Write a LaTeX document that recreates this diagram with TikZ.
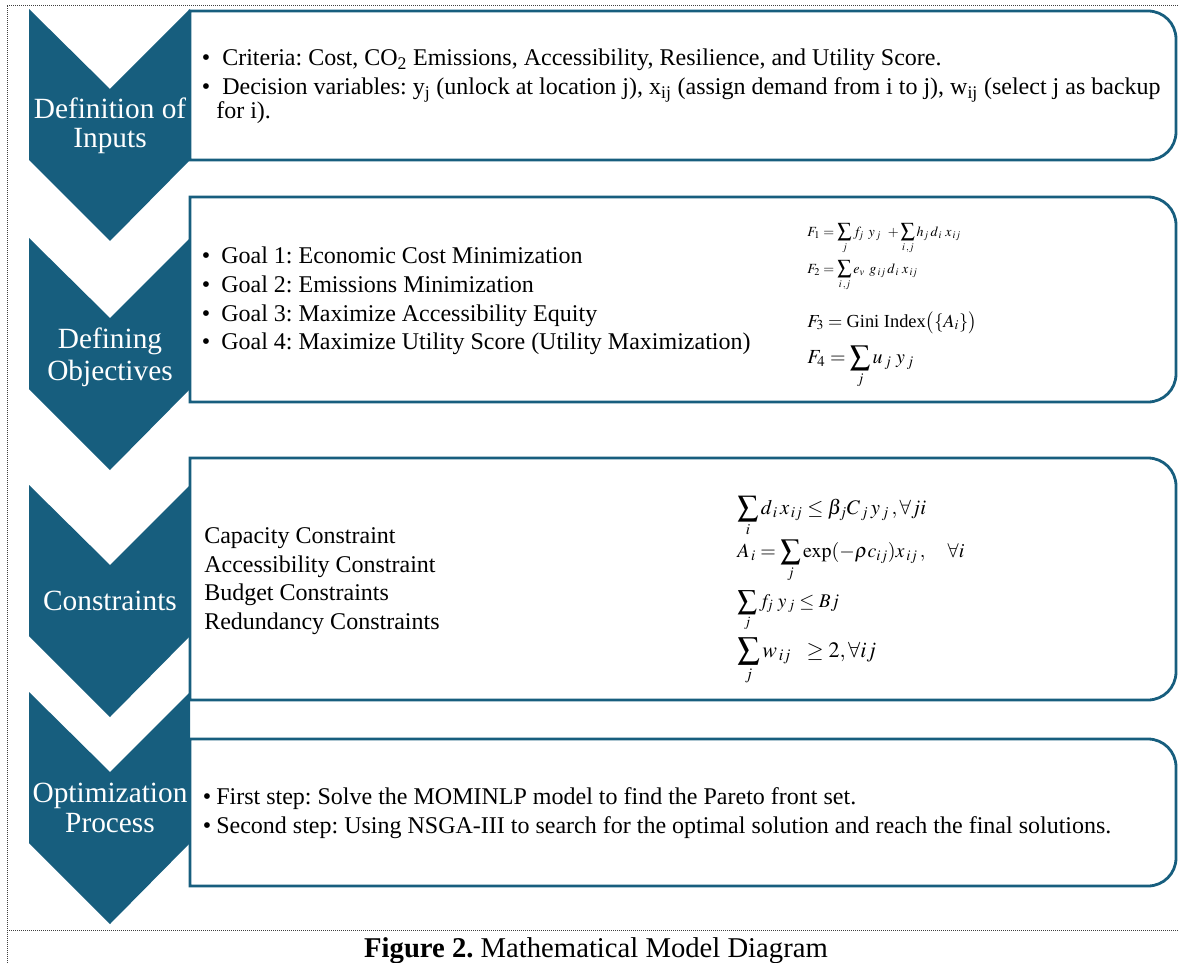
\documentclass[tikz,border=0pt]{standalone}
\usepackage{amsmath}
\usepackage{mathptmx}
\usepackage{fontspec}
\setmainfont{Liberation Serif}
\frenchspacing
\definecolor{tealA}{RGB}{23,94,126}
\newcommand\rbox[3]{\draw[boxline] (190,#1) -- (1148,#1) arc[start angle=-90,end angle=0,radius=28] -- (1176,#2-28) arc[start angle=0,end angle=90,radius=28] -- (190,#2) -- cycle;}
\newcommand\chevron[1]{\fill[tealA] (29,#1) -- (110,#1+80) -- (190,#1) -- (190,#1+151) -- (110,#1+232) -- (29,#1+151) -- cycle;}
\begin{document}
\begin{tikzpicture}[x=0.75pt,y=-0.75pt,
  boxline/.style={draw=tealA,line width=2.1pt},
  lbl/.style={text=white,font=\fontsize{22}{22}\selectfont,anchor=base,inner sep=0},
  txt/.style={anchor=base west,inner sep=0,font=\fontsize{18}{20}\selectfont},
  bul/.style={anchor=base,inner sep=0,font=\fontsize{18}{20}\selectfont},
  frm/.style={anchor=base west,inner sep=0},
]
\useasboundingbox (0,0) rectangle (1178,963);
% dotted frame
\draw[densely dotted,line width=0.5pt,black!75] (7,963) -- (7,5) -- (1178,5);
\draw[densely dotted,line width=0.5pt,black!75] (7,930) -- (1178,930);
% boxes
\rbox{11}{160}{}
\rbox{197}{402}{}
\rbox{458}{700}{}
\rbox{739}{886}{}
% chevrons
\chevron{9}
\chevron{238}
\chevron{485}
\chevron{692}
% chevron labels
\node[lbl] (l1a) at (110,119) {Definition of};
\node[lbl] (l1b) at (110,148) {Inputs};
\node[lbl] (l2a) at (110,348) {Defining};
\node[lbl] (l2b) at (110,380) {Objectives};
\node[lbl] (l3a) at (110,610) {Constraints};
\node[lbl] (l4a) at (110,802) {Optimization};
\node[lbl] (l4b) at (110,832) {Process};
% box 1
\node[bul] (b1a) at (206,66) {\textbullet};
\node[txt] (t1a) at (222,66) {Criteria: Cost, CO\textsubscript{2} Emissions, Accessibility, Resilience, and Utility Score.};
\node[bul] (b1b) at (206,95) {\textbullet};
\node[txt] (t1b) at (222,95) {Decision variables: y\textsubscript{j} (unlock at location j), x\textsubscript{ij} (assign demand from i to j), w\textsubscript{ij} (select j as backup};
\node[txt] (t1c) at (216,119) {for i).};
% box 2
\node[bul] (b2a) at (206,263) {\textbullet};
\node[txt] (t2a) at (221,263) {Goal 1: Economic Cost Minimization};
\node[bul] (b2b) at (206,292) {\textbullet};
\node[txt] (t2b) at (221,292) {Goal 2: Emissions Minimization};
\node[bul] (b2c) at (206,321) {\textbullet};
\node[txt] (t2c) at (221,321) {Goal 3: Maximize Accessibility Equity};
\node[bul] (b2d) at (206,349) {\textbullet};
\node[txt] (t2d) at (221,349) {Goal 4: Maximize Utility Score (Utility Maximization)};
\node[frm,font=\fontsize{10.5}{11}\selectfont] (f1) at (807,236) {$\displaystyle F_1=\sum_j f_{\!j}\;\,y_{\,j}\;\,+\sum_{i\,,j} h_j\,d_{\,i}\;x_{\,ij}$};
\node[frm,font=\fontsize{10.5}{11}\selectfont] (f2) at (807,273) {$\displaystyle F_2=\sum_{i\,,j} e_v\;\,g_{\,ij}\,d_{\,i}\;x_{\,ij}$};
\node[frm,font=\fontsize{13.8}{14}\selectfont] (f3) at (807,327) {$F_3=\text{Gini Index}\big(\{A_i\}\big)$};
\node[frm,font=\fontsize{15}{16}\selectfont] (f4) at (807,363) {$\displaystyle F_4=\sum_j u_{\,j}\;y_{\,j}$};
% box 3
\node[txt] (t3a) at (204,543) {Capacity Constraint};
\node[txt] (t3b) at (204,572) {Accessibility Constraint};
\node[txt] (t3c) at (204,600) {Budget Constraints};
\node[txt] (t3d) at (204,629) {Redundancy Constraints};
\node[frm,font=\fontsize{15.5}{16}\selectfont] (c1) at (737,514) {$\displaystyle \sum_i d_{\,i}\,x_{\,ij}\le \beta_j C_{\,j}\,y_{\,j}\,,\forall ji$};
\node[frm,font=\fontsize{15}{16}\selectfont] (c2) at (737,557) {$\displaystyle A_{\,i}=\sum_j \exp(-\rho c_{ij})x_{\,ij}\,,\quad\forall i$};
\node[frm,font=\fontsize{14.5}{15}\selectfont] (c3) at (737,607) {$\displaystyle \sum_j f_{\!j}\;y_{\,j}\le Bj$};
\node[frm,font=\fontsize{16.5}{17}\selectfont] (c4) at (737,657) {$\displaystyle \sum_j w_{\,ij}\;\ \ge 2,\forall ij$};
% box 4
\node[bul] (b4a) at (207,804) {\textbullet};
\node[txt] (t4a) at (216,804) {First step: Solve the MOMINLP model to find the Pareto front set.};
\node[bul] (b4b) at (207,833) {\textbullet};
\node[txt] (t4b) at (216,833) {Second step: Using NSGA-III to search for the optimal solution and reach the final solutions.};
% caption
\node[anchor=base,inner sep=0,font=\fontsize{21.5}{22}\selectfont] (cap) at (596,957) {\textbf{Figure 2.} Mathematical Model Diagram};
\end{tikzpicture}
\end{document}
